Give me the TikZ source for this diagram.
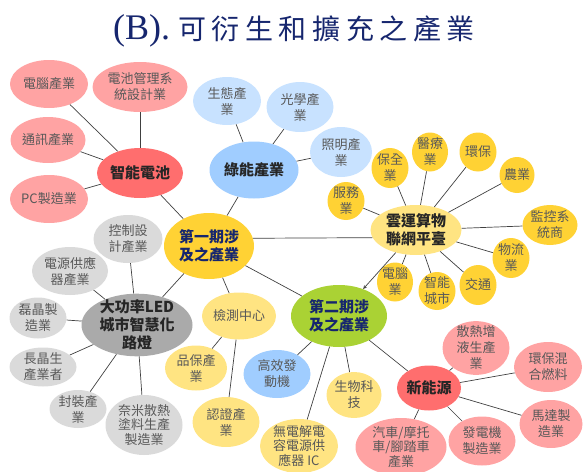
\documentclass[tikz,border=0pt]{standalone}
\usepackage{fontspec}
\setmainfont{Noto Sans CJK TC}
\newfontfamily\titlecjk[LetterSpace=20]{Noto Sans CJK TC}
\newfontfamily\titlelatin{Liberation Serif}
\usetikzlibrary{shapes.geometric}

\definecolor{navy}{RGB}{22,38,110}
\definecolor{leaftext}{RGB}{88,88,88}
\definecolor{pinkfill}{RGB}{255,163,163}
\definecolor{redfill}{RGB}{255,110,110}
\definecolor{skyfill}{RGB}{200,226,255}
\definecolor{bluefill}{RGB}{160,205,255}
\definecolor{goldfill}{RGB}{255,210,52}
\definecolor{palefill}{RGB}{255,228,130}
\definecolor{greyfill}{RGB}{218,218,218}
\definecolor{darkgrey}{RGB}{170,170,170}
\definecolor{limefill}{RGB}{170,210,52}

\tikzset{
  bubble/.style={ellipse, inner sep=-3pt, align=center, text=leaftext,
    font=\fontsize{13}{16}\selectfont},
  tight/.style={font=\fontsize{13}{14.5}\selectfont},
  hub/.style={bubble, text=black!85, font=\fontsize{15}{18}\selectfont\bfseries},
  phase/.style={hub, text=navy},
  spoke/.style={draw=black!75, line width=0.7pt},
  titletext/.style={text=navy, inner sep=0pt}
}
\newcommand{\bubble}[6]{
  \node[#1, minimum width=#4pt, minimum height=#5pt] (#2) at (#3) {#6};
}

\begin{document}
\begin{tikzpicture}[x=1pt, y=-1pt]
  \useasboundingbox (0,0) rectangle (583,471);
  \node[titletext] (title) at (294,31)
    {{\titlelatin\fontsize{36}{36}\selectfont (B).}\hspace{8pt}%
     {\titlecjk\fontsize{28}{28}\selectfont 可衍生和擴充之產業}};

  % smart battery
  \bubble{hub, fill=redfill}{battery}{140,173}{86}{50}{智能電池}
  \bubble{bubble, fill=pinkfill}{pcnao}{49,84}{78}{48}{電腦產業}
  \bubble{bubble, fill=pinkfill}{bms}{140,87}{95}{50}{電池管理系\\統設計業}
  \bubble{bubble, fill=pinkfill}{telecom}{48,140}{75}{46}{通訊產業}
  \bubble{bubble, fill=pinkfill}{pcmake}{49,199}{78}{48}{PC製造業}

  % green energy
  \bubble{hub, fill=bluefill}{greenind}{254,170}{89}{57}{綠能產業}
  \bubble{bubble, fill=skyfill}{eco}{227,101}{68}{48}{生態產\\業}
  \bubble{bubble, fill=skyfill}{optics}{300,107}{67}{50}{光學產\\業}
  \bubble{bubble, fill=skyfill}{lighting}{341,152}{62}{50}{照明產\\業}

  % phases
  \bubble{phase, fill=goldfill}{phaseone}{209,246}{90}{66}{第一期涉\\及之產業}
  \bubble{phase, fill=limefill}{phasetwo}{339,316}{96}{62}{第二期涉\\及之產業}

  % cloud platform
  \bubble{hub, fill=palefill}{cloud}{416,230}{91}{50}{雲運算物\\聯網平臺}
  \bubble{bubble, fill=goldfill}{service}{346,201}{37}{38}{服務\\業}
  \bubble{bubble, fill=goldfill}{security}{390,168}{37}{40}{保全\\業}
  \bubble{bubble, fill=goldfill}{medical}{430,152}{36}{39}{醫療\\業}
  \bubble{bubble, fill=goldfill}{envir}{478,152}{37}{39}{環保}
  \bubble{bubble, fill=goldfill}{agri}{517,175}{35}{36}{農業}
  \bubble{bubble, fill=goldfill}{monitor}{550,225}{55}{40}{監控系\\統商}
  \bubble{bubble, fill=goldfill}{logistics}{511,258}{37}{40}{物流\\業}
  \bubble{bubble, fill=goldfill}{traffic}{478,285}{37}{40}{交通}
  \bubble{bubble, fill=goldfill}{smartcity}{437,291}{37}{38}{智能\\城市}
  \bubble{bubble, fill=goldfill}{computer}{395,282}{36}{39}{電腦\\業}

  % LED street lamp
  \bubble{hub, fill=darkgrey}{led}{137,325}{111}{60}{大功率LED\\城市智慧化\\路燈}
  \bubble{bubble, fill=greyfill}{control}{128,239}{69}{48}{控制設\\計產業}
  \bubble{bubble, fill=greyfill}{power}{70,271}{76}{48}{電源供應\\器產業}
  \bubble{bubble, fill=greyfill}{epi}{38,318}{57}{41}{磊晶製\\造業}
  \bubble{bubble, fill=greyfill}{crystal}{43,367}{67}{39}{長晶生\\產業者}
  \bubble{bubble, fill=greyfill}{package}{78,409}{57}{38}{封裝產\\業}
  \bubble{bubble, fill=greyfill, tight}{nano}{144,425}{77}{60}{奈米散熱\\塗料生產\\製造業}

  % testing
  \bubble{bubble, fill=palefill}{testing}{239,316}{74}{47}{檢測中心}
  \bubble{bubble, fill=palefill}{quality}{196,368}{62}{45}{品保產\\業}
  \bubble{bubble, fill=palefill}{certify}{226,422}{67}{50}{認證產\\業}

  % second phase
  \bubble{bubble, fill=bluefill}{engine}{277,374}{67}{48}{高效發\\動機}
  \bubble{bubble, fill=palefill}{biotech}{354,395}{55}{46}{生物科\\技}
  \bubble{bubble, fill=palefill, tight}{capacitor}{299,446}{78}{54}{無電解電\\容電源供\\應器 IC}

  % new energy
  \bubble{hub, fill=redfill}{newenergy}{429,388}{64}{45}{新能源}
  \bubble{bubble, fill=pinkfill}{coolant}{476,348}{67}{50}{散熱增\\液生產\\業}
  \bubble{bubble, fill=pinkfill}{fuel}{548,367}{68}{50}{環保混\\合燃料}
  \bubble{bubble, fill=pinkfill}{motor}{551,424}{63}{48}{馬達製\\造業}
  \bubble{bubble, fill=pinkfill}{generator}{482,441}{67}{49}{發電機\\製造業}
  \bubble{bubble, fill=pinkfill, tight}{vehicle}{401,447}{91}{58}{汽車/摩托\\車/腳踏車\\產業}

  \foreach \leaf in {pcnao, bms, telecom, pcmake, phaseone}
    \draw[spoke] (battery) -- (\leaf);
  \foreach \leaf in {eco, optics, lighting, phaseone}
    \draw[spoke] (greenind) -- (\leaf);
  \foreach \leaf in {service, security, medical, envir, agri, monitor,
                     logistics, traffic, smartcity, computer}
    \draw[spoke] (cloud) -- (\leaf);
  \foreach \leaf in {control, power, epi, crystal, package, nano, phaseone}
    \draw[spoke] (led) -- (\leaf);
  \foreach \leaf in {quality, certify, phaseone}
    \draw[spoke] (testing) -- (\leaf);
  \foreach \leaf in {engine, biotech, capacitor, newenergy, phaseone}
    \draw[spoke] (phasetwo) -- (\leaf);
  \foreach \leaf in {coolant, fuel, motor, generator, vehicle}
    \draw[spoke] (newenergy) -- (\leaf);
  \draw[spoke] (phaseone.10) -- (cloud.190);
  \draw[spoke, -stealth] (cloud) -- (phasetwo);
\end{tikzpicture}
\end{document}
